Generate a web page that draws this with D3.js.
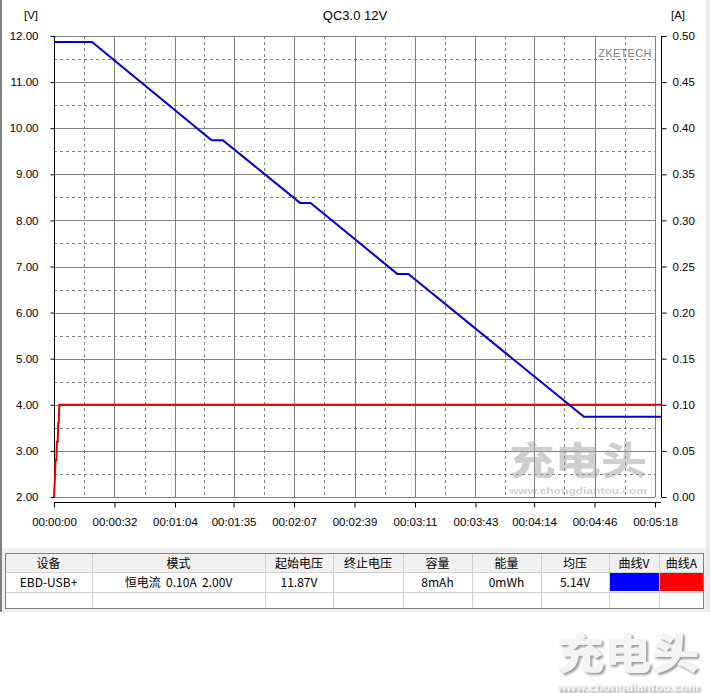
<!DOCTYPE html>
<html>
<head>
<meta charset="utf-8">
<script src="https://cdn.jsdelivr.net/npm/d3@7"></script>
<style>
  html, body { margin: 0; padding: 0; background: #ffffff; }
  svg { display: block; }
  text { font-family: "Liberation Sans", Arial, sans-serif; }
  .cjk { font-family: "Noto Sans CJK SC", "Liberation Sans", sans-serif; }
</style>
</head>
<body>
<svg id="chart" width="710" height="693"></svg>
<script>
// ---------- data ----------
const chartTitle = "QC3.0 12V";
const timeTickSeconds = [0, 32, 64, 95, 127, 159, 191, 223, 254, 286, 318];
const timeTickLabels = ["00:00:00", "00:00:32", "00:01:04", "00:01:35", "00:02:07", "00:02:39",
                        "00:03:11", "00:03:43", "00:04:14", "00:04:46", "00:05:18"];
const voltTicks = [2, 3, 4, 5, 6, 7, 8, 9, 10, 11, 12];
const ampTicks = [0, 0.05, 0.10, 0.15, 0.20, 0.25, 0.30, 0.35, 0.40, 0.45, 0.50];

// voltage curve (seconds, volts)
const vTime = [0, 20.1, 83.4, 89.3, 130.2, 135.8, 181.6, 187.5, 280.4, 321.2];
const vVolt = [11.87, 11.87, 9.74, 9.74, 8.38, 8.38, 6.84, 6.84, 3.74, 3.74];
// current curve (seconds, amps)
const aTime = [0, 0.5, 0.8, 1.3, 1.5, 2.0, 2.2, 2.5, 2.8, 321.2];
const aAmp = [0, 0.02, 0.04, 0.04, 0.06, 0.06, 0.08, 0.08, 0.10, 0.10];

// summary table
const tableHeaders = ["设备", "模式", "起始电压", "终止电压", "容量", "能量", "均压", "曲线V", "曲线A"];
const tableRow = ["EBD-USB+", "恒电流  0.10A  2.00V", "11.87V", "", "8mAh", "0mWh", "5.14V", "", ""];
const swatchColors = [null, null, null, null, null, null, null, "#0000ff", "#ff0000"];

// ---------- layout ----------
const svg = d3.select("#chart");
const plot = { left: 54, right: 655, top: 36, bottom: 497 };

const x = d3.scaleLinear().domain([0, 318]).range([plot.left, plot.right]);
const yV = d3.scaleLinear().domain([2, 12]).range([plot.bottom, plot.top]);
const yA = d3.scaleLinear().domain([0, 0.5]).range([plot.bottom, plot.top]);

const defs = svg.append("defs");
const f = defs.append("filter").attr("id", "wmShadow").attr("x", "-10%").attr("y", "-20%")
  .attr("width", "130%").attr("height", "150%");
f.append("feDropShadow").attr("dx", 2).attr("dy", 2).attr("stdDeviation", 0.8)
  .attr("flood-color", "#9a9a9a").attr("flood-opacity", 1);

// background frame
svg.append("rect").attr("x", 0).attr("y", 0).attr("width", 710).attr("height", 693).attr("fill", "#ffffff");
svg.append("rect").attr("x", 0).attr("y", 0).attr("width", 2).attr("height", 612).attr("fill", "#808080");
svg.append("rect").attr("x", 706).attr("y", 0).attr("width", 4).attr("height", 612).attr("fill", "#ececec");
svg.append("rect").attr("x", 2).attr("y", 548).attr("width", 704).attr("height", 64).attr("fill", "#f0f0f0");

// ---------- grid ----------
const grid = svg.append("g");
voltTicks.forEach(v => {
  grid.append("line").attr("x1", plot.left).attr("x2", plot.right)
    .attr("y1", Math.round(yV(v)) + 0.5).attr("y2", Math.round(yV(v)) + 0.5)
    .attr("stroke", "#808080").attr("stroke-width", 1);
  if (v < 12) {
    const yy = Math.round(yV(v + 0.5)) + 0.5;
    grid.append("line").attr("x1", plot.left).attr("x2", plot.right)
      .attr("y1", yy).attr("y2", yy)
      .attr("stroke", "#808080").attr("stroke-width", 1).attr("stroke-dasharray", "3,3");
  }
});
timeTickSeconds.forEach((t, i) => {
  const xx = Math.round(x(t)) + 0.5;
  grid.append("line").attr("x1", xx).attr("x2", xx).attr("y1", plot.top).attr("y2", plot.bottom)
    .attr("stroke", "#808080").attr("stroke-width", 1);
  if (i < timeTickSeconds.length - 1) {
    const xm = Math.round(x((t + timeTickSeconds[i + 1]) / 2)) + 0.5;
    grid.append("line").attr("x1", xm).attr("x2", xm).attr("y1", plot.top).attr("y2", plot.bottom)
      .attr("stroke", "#808080").attr("stroke-width", 1).attr("stroke-dasharray", "3,3");
  }
});

// ZKETECH label
svg.append("text").attr("x", 625).attr("y", 57).attr("text-anchor", "middle")
  .attr("font-size", 11).attr("fill", "#808080").attr("letter-spacing", 0.3).text("ZKETECH");

// plot watermark
const wm1 = svg.append("g").attr("opacity", 0.5);
wm1.append("text").attr("class", "cjk").attr("x", 578).attr("y", 474).attr("text-anchor", "middle")
  .attr("font-size", 38).attr("font-weight", 900).attr("fill", "#a0a0a0")
  .attr("textLength", 138).attr("lengthAdjust", "spacingAndGlyphs").text("充电头");
wm1.append("text").attr("x", 578).attr("y", 494).attr("text-anchor", "middle")
  .attr("font-size", 9).attr("font-weight", "bold").attr("fill", "#a0a0a0")
  .attr("textLength", 138).attr("lengthAdjust", "spacingAndGlyphs").text("www.chongdiantou.com");

// ---------- axes ----------
const leftAxis = d3.axisLeft(yV).tickValues(voltTicks).tickFormat(d3.format(".2f"))
  .tickSizeOuter(0).tickSizeInner(4).tickPadding(12);
const gL = svg.append("g").attr("transform", `translate(${plot.left + 0.5},0)`).call(leftAxis);

const rightAxis = d3.axisRight(yA).tickValues(ampTicks).tickFormat(d3.format(".2f"))
  .tickSizeOuter(0).tickSizeInner(5).tickPadding(6);
const gR = svg.append("g").attr("transform", `translate(661.5,0)`).call(rightAxis);

const bottomAxis = d3.axisBottom(x).tickValues(timeTickSeconds)
  .tickFormat((d, i) => timeTickLabels[i]).tickSizeOuter(0).tickSizeInner(5).tickPadding(10);
const gB = svg.append("g").attr("transform", `translate(0,502.5)`).call(bottomAxis);

[gL, gR, gB].forEach(g => {
  g.selectAll("path.domain").attr("stroke", "#000").attr("stroke-width", 1);
  g.selectAll(".tick line").attr("stroke", "#000");
  g.selectAll(".tick text").attr("font-family", "'Liberation Sans', Arial, sans-serif")
    .attr("font-size", 11.5).attr("fill", "#000");
});
gL.select("path.domain").attr("d", `M0,${plot.top}V${plot.bottom}`);
gR.select("path.domain").attr("d", `M0,${plot.top}V${plot.bottom}`);
gB.select("path.domain").attr("d", `M${plot.left},0H${plot.right + 6}`);

svg.append("text").attr("x", 31).attr("y", 19).attr("text-anchor", "middle").attr("font-size", 11.5).text("[V]");
svg.append("text").attr("x", 678).attr("y", 19).attr("text-anchor", "middle").attr("font-size", 11.5).text("[A]");
svg.append("text").attr("x", 355).attr("y", 20).attr("text-anchor", "middle").attr("font-size", 13).text(chartTitle);

// ---------- series ----------
const vData = vTime.map((t, i) => ({ t, v: vVolt[i] }));
const aData = aTime.map((t, i) => ({ t, v: aAmp[i] }));

svg.append("path").datum(aData)
  .attr("d", d3.line().x(d => x(d.t)).y(d => yA(d.v)))
  .attr("fill", "none").attr("stroke", "#e00000").attr("stroke-width", 2);
svg.append("path").datum(vData)
  .attr("d", d3.line().x(d => x(d.t)).y(d => yV(d.v)))
  .attr("fill", "none").attr("stroke", "#0000d0").attr("stroke-width", 2);

// ---------- table ----------
const colX = [5, 92, 265, 333, 403, 472, 541, 609, 659, 704];
const rowY = [553, 572, 592, 609];
const tbl = svg.append("g");
tbl.append("rect").attr("x", colX[0]).attr("y", rowY[0]).attr("width", colX[9] - colX[0])
  .attr("height", rowY[3] - rowY[0]).attr("fill", "#ffffff");
tbl.append("rect").attr("x", colX[0]).attr("y", rowY[0]).attr("width", colX[9] - colX[0])
  .attr("height", rowY[1] - rowY[0]).attr("fill", "#f0f0f0");
swatchColors.forEach((c, i) => {
  if (c) tbl.append("rect").attr("x", colX[i] + 1).attr("y", rowY[1] + 1)
    .attr("width", colX[i + 1] - colX[i] - 1).attr("height", rowY[2] - rowY[1] - 2).attr("fill", c);
});
colX.slice(1, -1).forEach(cx => {
  tbl.append("line").attr("x1", cx + 0.5).attr("x2", cx + 0.5).attr("y1", rowY[0]).attr("y2", rowY[3])
    .attr("stroke", "#d0d0d0");
});
rowY.slice(1, -1).forEach(ry => {
  tbl.append("line").attr("x1", colX[0]).attr("x2", colX[9]).attr("y1", ry + 0.5).attr("y2", ry + 0.5)
    .attr("stroke", "#d0d0d0");
});
tbl.append("rect").attr("x", colX[0] + 0.5).attr("y", rowY[0] + 0.5).attr("width", colX[9] - colX[0] - 1)
  .attr("height", rowY[3] - rowY[0] - 1).attr("fill", "none").attr("stroke", "#808080");

tableHeaders.forEach((h, i) => {
  tbl.append("text").attr("class", "cjk").attr("x", (colX[i] + colX[i + 1]) / 2).attr("y", rowY[0] + 14.5)
    .attr("text-anchor", "middle").attr("font-size", 12).attr("fill", "#000").text(h);
});
tableRow.forEach((h, i) => {
  if (!h) return;
  tbl.append("text").attr("class", "cjk").attr("x", (colX[i] + colX[i + 1]) / 2).attr("y", rowY[1] + 15)
    .attr("text-anchor", "middle").attr("font-size", 12).attr("fill", "#000")
    .attr("xml:space", "preserve").style("white-space", "pre").text(h);
});

// bottom watermark
const wm2 = svg.append("g");
wm2.append("text").attr("class", "cjk").attr("x", 628).attr("y", 669).attr("text-anchor", "middle")
  .attr("font-size", 42).attr("font-weight", 900).attr("fill", "#f4f4f4").attr("filter", "url(#wmShadow)")
  .attr("textLength", 142).attr("lengthAdjust", "spacingAndGlyphs").text("充电头");
wm2.append("text").attr("x", 628).attr("y", 691).attr("text-anchor", "middle")
  .attr("font-size", 10).attr("font-weight", "bold").attr("fill", "#f4f4f4").attr("filter", "url(#wmShadow)")
  .attr("textLength", 142).attr("lengthAdjust", "spacingAndGlyphs").text("www.chongdiantou.com");
</script>
</body>
</html>
